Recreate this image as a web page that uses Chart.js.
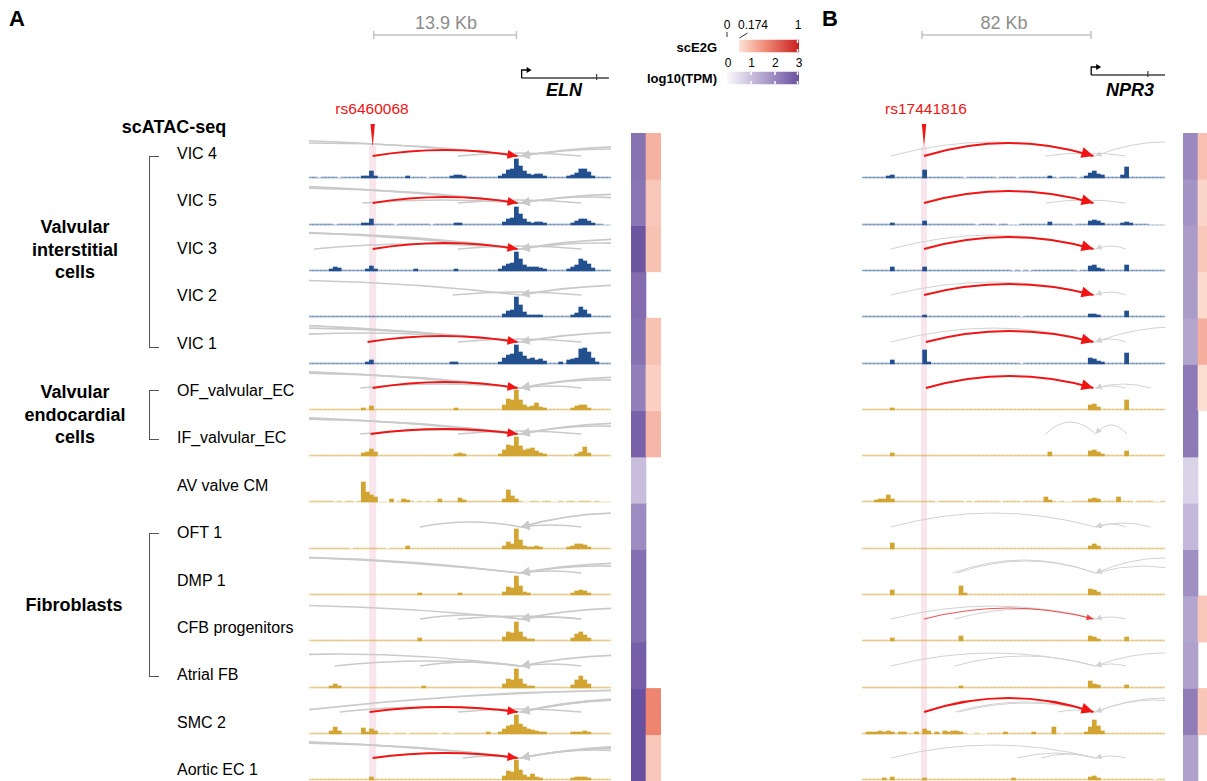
<!DOCTYPE html>
<html>
<head>
<meta charset="utf-8">
<script src="https://cdn.jsdelivr.net/npm/chart.js@4/dist/chart.umd.min.js"></script>
<style>
  html, body { margin: 0; padding: 0; background: #fff; }
  #fig { position: relative; width: 1207px; height: 781px; overflow: hidden;
         font-family: 'Liberation Sans', Arial, sans-serif; color: #000; }
  #fig canvas { position: absolute; }
  .t { position: absolute; white-space: nowrap; line-height: 1; }
  .br { position: absolute; border: 1.5px solid #555; border-right: none; }
</style>
</head>
<body>
<div id="fig"></div>
<script>
// ---- data ----
const cellTypes = ['VIC 4', 'VIC 5', 'VIC 3', 'VIC 2', 'VIC 1', 'OF_valvular_EC', 'IF_valvular_EC',
  'AV valve CM', 'OFT 1', 'DMP 1', 'CFB progenitors', 'Atrial FB', 'SMC 2', 'Aortic EC 1']
const interstitialGroup = ['VIC 4', 'VIC 5', 'VIC 3', 'VIC 2', 'VIC 1']
const endocardialGroup = ['OF_valvular_EC', 'IF_valvular_EC']
const fibroblastGroup = ['OFT 1', 'DMP 1', 'CFB progenitors', 'Atrial FB']

// ELN locus (kb from left edge of the window)
const elnSpanKb = 29.4
const elnSnpKb = 6.2
const elnTssKb = 20.6
const elnScaleBarKb = [6.3, 20.2]
const elnGeneKb = [20.7, 29.2]
const elnExonKb = 28.0

// scATAC coverage, 75 bins across the window, one row per cell type
const elnCoverage = [
  [1,1,0,1,1,1,1,0,1,1,1,1,1,2,2, 7,2,1,1,1,1,1,1,1,2,1,1,1,1,0, 1,1,1,1,1,2,3,3,2,1,1,1,1,1,1, 1,1,2,4,8,9,19,12,7,4,3,4,4,2,1, 1,1,1,1,2,3,5,9,9,6,2,1,1,1,1],
  [1,1,1,1,1,1,0,1,1,1,1,1,1,2,2, 6,1,1,1,1,1,0,1,1,1,1,1,1,1,1, 0,1,1,1,1,1,2,2,1,1,1,1,1,1,1, 1,1,1,3,6,7,18,11,6,3,2,3,3,2,1, 1,1,1,1,1,2,4,6,6,4,2,1,1,0,0],
  [1,1,1,1,1,2,4,3,1,1,1,1,1,1,2, 5,2,1,1,1,1,1,1,1,1,1,2,1,1,1, 1,1,1,1,1,1,2,1,1,1,1,1,1,1,1, 1,1,2,5,7,8,19,12,6,4,4,4,3,2,1, 1,1,1,1,2,4,6,12,10,7,3,1,1,1,1],
  [1,1,1,1,1,1,1,1,1,1,1,1,1,1,1, 1,1,1,1,1,1,1,1,1,1,1,1,1,1,1, 1,1,1,1,1,1,1,1,1,1,1,1,1,1,1, 1,1,1,3,6,7,20,12,5,2,2,2,2,1,1, 1,1,1,1,1,2,4,10,7,3,1,1,1,1,1],
  [1,1,1,1,1,1,1,1,1,1,1,1,1,1,2, 4,1,1,1,1,1,1,1,1,1,1,1,1,1,1, 1,1,1,1,1,2,2,1,1,1,1,1,1,1,1, 1,1,2,6,9,10,19,12,8,5,6,4,5,3,1, 1,1,2,1,4,5,6,15,16,12,6,2,1,1,1],
  [1,1,1,1,1,1,1,1,1,1,1,1,1,2,1, 4,1,1,1,1,1,1,1,1,1,1,1,1,1,1, 1,1,1,1,1,1,2,1,1,1,1,1,1,1,1, 1,1,1,5,11,10,20,10,5,3,4,7,3,2,1, 1,1,1,1,1,2,4,5,5,2,1,1,1,1,1],
  [1,1,1,1,1,1,1,1,1,1,1,1,1,3,4, 7,4,1,1,1,1,1,1,1,1,1,1,1,1,1, 1,1,1,1,1,1,2,3,2,1,1,1,1,1,1, 1,1,2,6,11,10,19,10,6,7,8,5,3,2,1, 1,1,1,1,1,1,2,4,9,3,1,1,1,1,1],
  [1,1,1,1,1,1,0,1,0,1,1,0,1,20,10, 7,5,0,0,0,3,0,1,3,2,1,0,1,0,1, 0,1,3,1,1,1,1,4,2,1,1,1,1,1,1, 1,1,1,3,12,6,3,1,0,0,1,1,0,1,1, 0,0,1,0,1,1,0,1,1,1,0,1,0,0,0],
  [1,1,1,1,1,1,1,1,1,1,0,1,1,1,1, 1,1,1,1,0,1,1,1,1,3,1,1,1,1,1, 1,1,1,1,1,1,1,1,1,1,1,1,1,1,1, 1,1,1,3,7,5,20,9,3,2,2,3,2,1,1, 1,1,1,1,2,3,5,5,4,2,1,1,1,1,1],
  [1,1,1,1,1,1,1,1,1,1,1,1,1,1,1, 1,1,1,1,1,1,1,1,1,1,1,1,2,1,1, 1,1,1,1,1,1,1,2,1,1,1,1,1,1,1, 1,1,1,3,8,7,19,9,3,2,1,1,1,1,1, 1,1,1,1,1,2,4,5,4,2,1,1,1,1,1],
  [1,1,1,1,1,1,1,1,1,1,1,1,1,1,1, 1,1,1,1,1,1,1,1,1,1,1,1,3,1,1, 1,1,1,1,1,1,1,1,1,1,1,1,1,1,1, 1,1,1,4,9,8,19,9,4,2,2,1,1,1,1, 1,1,1,1,1,3,7,9,6,3,1,1,1,1,1],
  [1,1,1,1,1,2,4,2,1,1,1,1,1,1,1, 1,1,1,1,1,1,1,1,1,1,1,1,1,2,1, 1,1,1,1,1,1,1,1,1,1,1,1,1,1,1, 1,1,1,4,9,8,19,9,4,2,2,1,1,1,1, 1,1,1,1,1,3,8,12,8,4,1,1,1,1,1],
  [1,1,1,1,1,3,7,3,1,1,1,1,1,6,2, 5,3,1,1,1,0,1,1,1,0,1,1,1,1,1, 1,1,0,1,1,0,1,1,1,1,1,1,1,1,2, 1,1,2,5,8,9,19,10,7,5,4,3,2,2,1, 1,1,1,1,1,2,2,2,3,2,1,1,1,1,1],
  [1,1,1,1,1,1,1,1,1,1,1,1,1,1,1, 3,1,1,1,1,1,1,1,1,1,1,1,1,1,1, 1,1,1,1,1,1,1,1,1,1,1,1,1,1,1, 1,1,1,4,9,8,20,10,5,3,6,3,2,1,1, 1,1,1,1,1,2,3,3,3,2,1,1,1,1,1]
]

// contact arcs [fromKb, toKb, rise] per cell type (grey) and the SNP-to-gene link (red)
const elnArcs = [
  [[-20, 20.6, 13], [-40, 20.6, 17], [20.6, 45, 10], [20.6, 38, 7], [14.5, 26.5, 3]],
  [[-25, 20.6, 15], [-45, 20.6, 19], [5.2, 20.6, 3], [20.6, 42, 9], [20.6, 34, 6], [14.5, 26.5, 3]],
  [[-25, 20.6, 16], [-45, 20.6, 19], [0.5, 20.6, 5], [20.6, 42, 10], [20.6, 36, 6], [14.5, 26.5, 3]],
  [[-30, 20.6, 15], [20.6, 42, 10], [14, 26.5, 3]],
  [[-25, 20.6, 14], [-45, 20.6, 19], [-10, 20.6, 9], [20.6, 42, 10], [14.5, 26.5, 3]],
  [[-25, 20.6, 15], [-40, 20.6, 18], [5, 20.6, 4], [20.6, 42, 11], [20.6, 36, 8], [20.6, 26.5, 2]],
  [[-25, 20.6, 15], [-40, 20.6, 18], [5, 20.6, 4], [14.5, 26.5, 3], [20.6, 42, 11], [20.6, 36, 8]],
  [],
  [[10.8, 20.6, 5], [20.6, 40, 14], [20.6, 26.5, 2]],
  [[-30, 20.6, 16], [-45, 20.6, 18], [20.6, 42, 10], [20.6, 36, 7], [20.6, 26.5, 2]],
  [[-30, 20.6, 14], [10.8, 20.6, 4], [14.5, 26.5, 3], [20.6, 42, 11], [20.6, 26.5, 2]],
  [[-15, 20.6, 12], [2.5, 20.6, 5], [10.8, 20.6, 4], [20.6, 42, 11], [20.6, 26.5, 2]],
  [[-2, 70, 22], [3, 20.6, 5], [20.6, 45, 14], [20.6, 44, 13], [20.6, 40, 12], [14.5, 26.5, 3]],
  [[-25, 20.6, 15], [-40, 20.6, 18], [15, 20.6, 2], [20.6, 45, 12], [20.6, 40, 10], [20.6, 35, 8]]
]
const elnLinks = [[6.2, 20.3, 6], [6.2, 20.3, 6], [6.2, 20.3, 6], null, [5.7, 20.3, 6], [6.2, 20.3, 6],
  [6.0, 20.3, 5], null, null, null, null, null, [5.9, 20.3, 5], [6.2, 20.3, 5]]

const elnTPM = [2.40, 2.32, 2.92, 2.48, 2.42, 2.15, 2.70, 1.05, 1.95, 2.45, 2.45, 2.74, 3.0, 3.0]
const elnE2G = [0.37, 0.28, 0.30, null, 0.30, 0.24, 0.35, null, null, null, null, null, 0.56, 0.28]

// NPR3 locus
const npr3SpanKb = 147
const npr3SnpKb = 30.1
const npr3TssKb = 113.3
const npr3ScaleBarKb = [29.1, 111.1]
const npr3GeneKb = [111.2, 147]
const npr3ExonKb = 138.7

const npr3Coverage = [
  [1,1,1,1,1,1,2,3,1,1,1,1,1,1,1, 8,1,1,1,1,1,1,1,1,1,0,1,1,1,1, 1,1,1,0,1,1,1,1,0,1,1,1,1,1,1, 1,2,1,0,1,1,1,1,0,1,2,5,7,4,3, 1,1,1,1,3,11,1,1,1,1,1,1,1,1,1],
  [1,1,1,1,1,1,1,2,1,1,1,1,1,1,1, 4,1,1,1,1,1,1,1,1,1,1,1,1,0,1, 1,1,1,0,1,1,0,0,0,1,1,1,1,1,1, 1,3,1,1,1,1,1,0,1,1,1,4,5,4,2, 1,1,1,1,2,3,2,1,1,1,1,0,0,0,0],
  [1,1,1,1,1,1,1,4,1,1,1,1,1,1,1, 4,1,1,1,1,1,1,1,1,1,1,1,1,1,1, 1,1,1,1,1,1,1,0,1,0,1,0,1,1,1, 1,1,1,1,1,1,1,1,0,1,1,5,6,3,2, 1,1,1,1,1,6,1,1,1,1,1,1,1,1,1],
  [1,1,1,1,1,1,1,1,1,1,1,1,1,1,1, 2,1,1,1,1,1,1,1,1,1,1,1,1,1,1, 1,1,1,1,1,1,1,1,1,0,1,1,1,1,1, 1,1,1,1,1,1,1,1,1,1,1,3,3,2,1, 1,1,1,1,1,6,1,1,1,1,1,1,1,1,1],
  [1,1,1,1,1,1,1,4,1,1,1,1,1,1,1, 14,2,1,1,1,1,1,1,1,1,1,1,1,1,1, 1,1,1,1,1,1,1,1,1,0,1,1,1,1,1, 1,1,1,1,1,1,1,1,1,1,1,6,5,3,2, 1,1,1,1,1,11,1,1,1,1,1,1,1,1,1],
  [1,1,1,1,1,1,1,2,1,1,1,1,1,1,1, 1,1,1,1,1,1,1,1,1,1,1,1,1,1,1, 1,1,1,1,1,1,1,1,1,1,1,1,1,1,1, 1,1,1,1,1,1,1,1,1,1,1,5,6,3,1, 1,1,1,1,1,10,1,1,1,1,1,1,1,1,1],
  [1,1,1,1,1,1,1,3,1,1,1,1,1,1,1, 1,1,1,1,1,1,1,1,1,1,1,1,1,1,1, 1,1,1,1,1,1,1,1,1,1,1,1,1,1,1, 1,4,1,1,1,1,1,1,1,1,1,5,6,4,2, 1,1,1,1,1,5,1,1,1,1,1,1,1,1,1],
  [1,1,1,2,3,3,7,3,1,1,1,1,1,1,1, 1,1,1,0,1,1,1,1,1,1,0,1,0,1,1, 1,1,1,1,0,1,1,1,1,0,1,1,1,1,1, 5,2,1,0,1,0,0,1,1,1,1,3,4,3,1, 1,1,1,5,1,1,1,0,1,1,1,1,0,0,1],
  [1,1,1,1,1,1,1,6,1,1,1,1,1,1,1, 1,1,1,1,1,1,1,1,1,1,1,1,1,1,1, 1,1,1,1,1,1,1,1,1,1,1,1,1,1,1, 1,1,1,1,1,1,1,1,1,1,1,3,5,3,1, 1,1,1,1,1,1,1,1,1,1,1,1,1,1,1],
  [1,1,1,1,1,1,1,5,1,1,1,1,1,1,1, 1,1,1,1,1,1,1,1,1,9,2,1,1,1,1, 1,1,1,1,1,1,1,1,1,1,1,1,1,1,1, 1,1,1,1,1,1,1,1,1,1,1,6,5,3,1, 1,1,1,1,1,1,1,1,1,1,1,1,1,1,1],
  [1,1,1,1,1,1,1,3,1,1,1,1,1,1,1, 1,1,1,1,1,1,1,1,1,5,1,1,1,1,1, 1,1,1,1,1,1,1,1,1,1,1,1,1,1,1, 1,1,1,1,1,1,1,1,1,1,1,5,4,2,1, 1,1,1,1,1,4,1,1,1,1,1,1,1,1,1],
  [1,1,1,1,1,1,1,1,1,1,1,1,1,1,1, 1,1,1,1,1,1,1,1,1,2,1,1,1,1,1, 1,1,1,1,1,1,1,1,1,1,1,1,1,1,1, 1,1,1,1,1,1,1,1,1,1,1,7,4,3,1, 1,1,1,1,1,3,1,1,1,1,1,1,1,1,1],
  [1,2,2,2,3,2,3,2,1,2,2,1,1,2,1, 5,3,1,2,1,3,2,3,3,2,1,0,0,1,0, 0,1,1,1,1,2,1,1,1,1,1,1,2,1,1, 1,1,7,1,0,1,1,1,1,1,2,7,14,8,3, 1,1,1,1,1,1,1,1,1,1,1,1,1,1,1],
  [1,1,1,1,1,2,1,3,1,1,1,1,1,1,1, 2,1,1,1,1,1,1,1,1,1,1,1,1,1,1, 1,1,1,1,1,1,1,2,1,1,1,1,1,1,1, 1,1,1,1,1,1,1,1,1,1,1,3,4,2,1, 1,1,1,1,1,1,1,1,1,1,1,1,0,1,1]
]

const npr3Arcs = [
  [[14, 113.3, 14], [113.3, 180, 14], [89, 128, 3]],
  [[89, 128, 3]],
  [[14, 113.3, 14], [113.3, 128, 3]],
  [[14, 113.3, 13], [113.3, 128, 3]],
  [[14, 113.3, 14], [113.3, 190, 15], [113.3, 128, 3]],
  [[113.3, 140, 4], [113.3, 128, 2]],
  [[89, 113.3, 12], [113.3, 128.5, 9]],
  [],
  [[14, 113.3, 14], [113.3, 140, 4], [113.3, 128, 3]],
  [[44, 113.3, 13], [46, 113.3, 12], [113.3, 180, 15], [113.3, 160, 7]],
  [[14, 113.3, 13], [45, 113.3, 10], [113.3, 128, 2]],
  [[14, 113.3, 13], [45, 113.3, 10], [113.3, 180, 13], [113.3, 128, 2]],
  [[45, 113.3, 10], [47, 113.3, 9], [95, 113.3, 2], [113.3, 180, 14], [113.3, 170, 12]],
  [[14, 113.3, 13], [75, 113.3, 5], [87, 113.3, 4], [113.3, 128, 2]]
]
const npr3Links = [[30.1, 112.3, 13], [30.1, 112.3, 12], [30.1, 112.3, 12], [30.1, 112.3, 11], [31, 112.3, 11],
  [31, 112.3, 12], null, null, null, null, [30.1, 112.3, 11], null, [30.1, 112.3, 14], null]
const npr3WeakLinks = ['CFB progenitors']

const npr3TPM = [2.01, 1.79, 1.67, 1.67, 1.49, 2.25, 2.25, 0.68, 1.15, 1.89, 1.49, 1.57, 2.21, 1.57]
const npr3E2G = [0.31, 0.22, 0.275, 0.195, 0.385, 0.18, null, null, null, null, 0.275, null, 0.29, null]

const e2gThreshold = 0.174
const tpmTicks = [0, 1, 2, 3]

// ---- colour scales ----
const tpmStops = [[0, [250, 249, 252]], [3, [106, 80, 160]]]
const e2gStops = [[0.174, [253, 224, 212]], [0.55, [239, 135, 115]], [1, [200, 30, 30]]]

function rampColor(stops, v) {
  if (v <= stops[0][0]) return 'rgb(' + stops[0][1].join(',') + ')'
  for (let i = 1; i < stops.length; i++) {
    if (v <= stops[i][0]) {
      const [v0, c0] = stops[i - 1], [v1, c1] = stops[i]
      const f = (v - v0) / (v1 - v0)
      return 'rgb(' + c0.map((c, k) => Math.round(c + (c1[k] - c) * f)).join(',') + ')'
    }
  }
  return 'rgb(' + stops[stops.length - 1][1].join(',') + ')'
}

// ---- page helpers ----
const fig = document.getElementById('fig')

function addCanvas(left, top, w, h, z) {
  const c = document.createElement('canvas')
  c.width = w
  c.height = h
  c.style.cssText = `left:${left}px;top:${top}px;width:${w}px;height:${h}px;z-index:${z || 1}`
  fig.appendChild(c)
  return c
}

function text(str, x, y, style, align) {
  const d = document.createElement('div')
  d.className = 't'
  d.textContent = str
  d.style.left = x + 'px'
  d.style.top = y + 'px'
  const tx = align === 'center' ? '-50%' : align === 'right' ? '-100%' : '0'
  d.style.transform = `translate(${tx},-50%)`
  Object.assign(d.style, style || {})
  fig.appendChild(d)
}

function bracket(x, y0, y1) {
  const d = document.createElement('div')
  d.className = 'br'
  d.style.cssText = `left:${x}px;top:${y0}px;width:9px;height:${y1 - y0}px`
  fig.appendChild(d)
}

const baseOpts = () => ({
  responsive: false, animation: false, events: [],
  layout: { padding: 0 },
  plugins: { legend: { display: false }, tooltip: { enabled: false } }
})

// ---- track drawing ----
const trackTop = 133
const trackStep = 46.3
const arcBase = 22

function arcPath(ctx, x, y, from, to, rise) {
  const xa = x.getPixelForValue(from), xb = x.getPixelForValue(to)
  const yb = y.getPixelForValue(arcBase), yc = y.getPixelForValue(arcBase + 2 * rise)
  const cx = (xa + xb) / 2
  ctx.beginPath()
  ctx.moveTo(xa, yb)
  ctx.quadraticCurveTo(cx, yc, xb, yb)
  return { xa, xb, yb, cx, cy: yc }
}

function arrowHead(ctx, tx, ty, fx, fy, len, half) {
  const a = Math.atan2(ty - fy, tx - fx)
  const bx = tx - len * Math.cos(a), by = ty - len * Math.sin(a)
  ctx.beginPath()
  ctx.moveTo(tx, ty)
  ctx.lineTo(bx + half * Math.sin(a), by - half * Math.cos(a))
  ctx.lineTo(bx - half * Math.sin(a), by + half * Math.cos(a))
  ctx.closePath()
  ctx.fill()
}

function trackDecor(p, i) {
  return {
    id: 'decor' + i,
    beforeDatasetsDraw(chart) {
      const { ctx, chartArea: a, scales: { x } } = chart
      const x0 = x.getPixelForValue(p.snp - p.band), x1 = x.getPixelForValue(p.snp + p.band)
      const top = i === 0 ? a.top + 13 : a.top
      ctx.save()
      ctx.fillStyle = 'rgba(232,150,178,0.25)'
      ctx.fillRect(x0, top, x1 - x0, a.bottom - top)
      ctx.restore()
    },
    afterDatasetsDraw(chart) {
      const { ctx, chartArea: a, scales: { x, y } } = chart
      ctx.save()
      ctx.beginPath()
      ctx.rect(a.left, a.top, a.right - a.left, a.bottom - a.top)
      ctx.clip()
      ctx.lineCap = 'butt'
      ctx.strokeStyle = p.arcColor
      ctx.fillStyle = p.arcColor
      ctx.lineWidth = p.arcWidth
      p.arcs[i].forEach(([from, to, rise]) => {
        const g = arcPath(ctx, x, y, from, to, rise)
        ctx.stroke()
        if (from === p.tss) arrowHead(ctx, g.xa, g.yb, g.cx, g.cy, p.grayHead[0], p.grayHead[1])
      })
      const link = p.links[i]
      if (link) {
        const weak = p.weak.includes(cellTypes[i])
        const col = weak ? 'rgba(238,40,40,0.8)' : '#f01414'
        ctx.strokeStyle = col
        ctx.fillStyle = col
        ctx.lineWidth = weak ? 1.2 : p.linkWidth
        const g = arcPath(ctx, x, y, link[0], link[1], link[2])
        ctx.stroke()
        const hd = weak ? [7, 3] : p.redHead
        arrowHead(ctx, g.xb, g.yb, g.cx, g.cy, hd[0], hd[1])
      }
      ctx.restore()
    }
  }
}

function buildTracks(p) {
  p.coverage.forEach((cov, i) => {
    const top = Math.round(trackTop + trackStep * i)
    const h = Math.round(trackTop + trackStep * (i + 1)) - top
    const cvs = addCanvas(p.left, top, p.width, h, 1)
    const binKb = p.span / cov.length
    const vic = interstitialGroup.includes(cellTypes[i])
    const color = vic ? '#22508f' : '#d2a431'
    const faint = vic ? 'rgba(34,80,143,0.5)' : 'rgba(210,164,49,0.5)'
    const opts = baseOpts()
    opts.scales = {
      x: { type: 'linear', min: 0, max: p.span, display: false, offset: false },
      y: { min: -1, max: h - 1, display: false }
    }
    new Chart(cvs, {
      type: 'bar',
      data: {
        datasets: [{
          data: cov.map((v, k) => ({ x: (k + 0.5) * binKb, y: v })),
          backgroundColor: c => (c.raw && c.raw.y <= 1 ? faint : color),
          borderWidth: 0, barPercentage: 1, categoryPercentage: 1
        }]
      },
      options: opts,
      plugins: [trackDecor(p, i)]
    })
  })
}

function buildHeader(p) {
  const cvs = addCanvas(p.left, 0, p.width, 150, 3)
  const opts = baseOpts()
  opts.scales = {
    x: { type: 'linear', min: 0, max: p.span, display: false },
    y: { type: 'linear', min: 0, max: 150, reverse: true, display: false }
  }
  new Chart(cvs, {
    type: 'scatter',
    data: { datasets: [] },
    options: opts,
    plugins: [{
      id: 'header',
      afterDraw(chart) {
        const { ctx, scales: { x, y } } = chart
        ctx.save()
        // scale bar
        const s0 = x.getPixelForValue(p.scaleBar[0]), s1 = x.getPixelForValue(p.scaleBar[1])
        const sy = y.getPixelForValue(35)
        ctx.strokeStyle = '#c4c4c4'
        ctx.lineWidth = 1.5
        ctx.beginPath()
        ctx.moveTo(s0, sy); ctx.lineTo(s1, sy)
        ctx.moveTo(s0, sy - 4); ctx.lineTo(s0, sy + 4)
        ctx.moveTo(s1, sy - 4); ctx.lineTo(s1, sy + 4)
        ctx.stroke()
        // gene model
        const g0 = x.getPixelForValue(p.gene[0]), g1 = x.getPixelForValue(p.gene[1])
        const gx = x.getPixelForValue(p.exon), gy = y.getPixelForValue(p.geneY)
        ctx.strokeStyle = '#444'
        ctx.lineWidth = 1.3
        ctx.beginPath()
        ctx.moveTo(g0, gy); ctx.lineTo(g1, gy)
        ctx.moveTo(gx, gy - 4); ctx.lineTo(gx, gy + 2)
        ctx.stroke()
        ctx.strokeStyle = '#000'
        ctx.beginPath()
        ctx.moveTo(g0, gy); ctx.lineTo(g0, gy - 8); ctx.lineTo(g0 + 6, gy - 8)
        ctx.stroke()
        ctx.fillStyle = '#000'
        ctx.beginPath()
        ctx.moveTo(g0 + 10, gy - 8); ctx.lineTo(g0 + 5, gy - 11); ctx.lineTo(g0 + 5, gy - 5)
        ctx.closePath(); ctx.fill()
        // SNP marker
        const sx = x.getPixelForValue(p.snp)
        ctx.fillStyle = '#f01414'
        ctx.beginPath()
        ctx.moveTo(sx - 2.2, y.getPixelForValue(124))
        ctx.lineTo(sx + 2.2, y.getPixelForValue(124))
        ctx.lineTo(sx, y.getPixelForValue(147))
        ctx.closePath(); ctx.fill()
        ctx.restore()
      }
    }]
  })
}

function buildHeatmap(left, tpm, e2g) {
  const cvs = addCanvas(left, trackTop, 30, 648, 1)
  const opts = baseOpts()
  opts.scales = {
    x: { display: false, stacked: true },
    y: { display: false, stacked: true, reverse: true, min: 0, max: cellTypes.length }
  }
  new Chart(cvs, {
    type: 'bar',
    data: {
      labels: ['log10(TPM)', 'scE2G'],
      datasets: cellTypes.map((n, i) => ({
        label: n,
        data: [1, 1],
        backgroundColor: [rampColor(tpmStops, tpm[i]),
          e2g[i] == null || e2g[i] < e2gThreshold ? 'rgba(0,0,0,0)' : rampColor(e2gStops, e2g[i])],
        borderWidth: 0, barPercentage: 1, categoryPercentage: 1
      }))
    },
    options: opts
  })
}

function buildColorbar(top, lo, hi, range, stops, ticks, extra) {
  const cvs = addCanvas(720, top, 86, 24, 2)
  const opts = baseOpts()
  opts.indexAxis = 'y'
  opts.layout = { padding: { left: 7, right: 7, top: 4, bottom: 0 } }
  opts.scales = {
    x: { type: 'linear', min: range[0], max: range[1], display: false },
    y: { display: false }
  }
  new Chart(cvs, {
    type: 'bar',
    data: {
      labels: ['bar'],
      datasets: [{
        data: [[lo, hi]],
        barThickness: 12,
        borderWidth: 0,
        backgroundColor(c) {
          const ch = c.chart
          if (!ch.chartArea) return '#ccc'
          const xs = ch.scales.x
          const grad = ch.ctx.createLinearGradient(xs.getPixelForValue(lo), 0, xs.getPixelForValue(hi), 0)
          stops.forEach(([v]) => grad.addColorStop((v - lo) / (hi - lo), rampColor(stops, v)))
          return grad
        }
      }]
    },
    options: opts,
    plugins: [{
      id: 'cbTicks',
      afterDraw(chart) {
        const { ctx, scales: { x }, chartArea: a } = chart
        const cy = (a.top + a.bottom) / 2
        ctx.save()
        ctx.strokeStyle = '#fff'
        ctx.lineWidth = 1.5
        ticks.forEach(t => {
          if (t <= lo) return
          const px = Math.min(x.getPixelForValue(t), a.right - 1.5)
          ctx.beginPath()
          ctx.moveTo(px, cy - 6); ctx.lineTo(px, cy - 3)
          ctx.moveTo(px, cy + 3); ctx.lineTo(px, cy + 6)
          ctx.stroke()
        })
        if (extra) extra(ctx, x, cy)
        ctx.restore()
      }
    }]
  })
}

// ---- build panels ----
const panelA = {
  left: 309, width: 302, span: elnSpanKb, snp: elnSnpKb, tss: elnTssKb, band: 0.34,
  coverage: elnCoverage, arcs: elnArcs, links: elnLinks, weak: [],
  arcColor: '#cacaca', arcWidth: 1.7, linkWidth: 2, grayHead: [9, 4.5], redHead: [10, 4.5],
  scaleBar: elnScaleBarKb, gene: elnGeneKb, exon: elnExonKb, geneY: 78
}
const panelB = {
  left: 862, width: 303, span: npr3SpanKb, snp: npr3SnpKb, tss: npr3TssKb, band: 1.45,
  coverage: npr3Coverage, arcs: npr3Arcs, links: npr3Links, weak: npr3WeakLinks,
  arcColor: '#d2d2d2', arcWidth: 1, linkWidth: 2.2, grayHead: [6, 3], redHead: [12, 5.5],
  scaleBar: npr3ScaleBarKb, gene: npr3GeneKb, exon: npr3ExonKb, geneY: 75
}

buildTracks(panelA)
buildTracks(panelB)
buildHeader(panelA)
buildHeader(panelB)
buildHeatmap(631, elnTPM, elnE2G)
buildHeatmap(1183, npr3TPM, npr3E2G)

buildColorbar(32, e2gThreshold, 1, [0, 1], e2gStops, [1], (ctx, x) => {
  ctx.strokeStyle = '#333'
  ctx.lineWidth = 1
  const x0 = x.getPixelForValue(0), xt = x.getPixelForValue(e2gThreshold)
  ctx.beginPath()
  ctx.moveTo(x0, 0); ctx.lineTo(x0, 5)
  ctx.moveTo(xt, 6); ctx.lineTo(xt + 8, 1)
  ctx.stroke()
})
buildColorbar(64, 0, 3, [0, 3], tpmStops, tpmTicks)

// ---- text ----
text('A', 9, 19, { fontWeight: 'bold', fontSize: '22px' })
text('B', 822, 19, { fontWeight: 'bold', fontSize: '22px' })
text('13.9 Kb', 446, 23, { fontSize: '18px', color: '#8c8c8c' }, 'center')
text('82 Kb', 1004, 23, { fontSize: '18px', color: '#8c8c8c' }, 'center')
text('ELN', 564, 90, { fontSize: '18px', fontWeight: 'bold', fontStyle: 'italic' }, 'center')
text('NPR3', 1130, 90, { fontSize: '18px', fontWeight: 'bold', fontStyle: 'italic' }, 'center')
text('rs6460068', 372, 109, { fontSize: '15.5px', color: '#f01414' }, 'center')
text('rs17441816', 926, 109, { fontSize: '15.5px', color: '#f01414' }, 'center')

text('0', 727, 25, { fontSize: '12px' }, 'center')
text('0.174', 738, 25, { fontSize: '12px' })
text('1', 798, 25, { fontSize: '12px' }, 'center')
text('scE2G', 717, 47, { fontSize: '13px', fontWeight: 'bold' }, 'right')
tpmTicks.forEach(t => text(String(t), 728 + t * 23.7, 63, { fontSize: '12px' }, 'center'))
text('log10(TPM)', 717, 78, { fontSize: '13px', fontWeight: 'bold' }, 'right')

text('scATAC-seq', 174, 127, { fontSize: '18px', fontWeight: 'bold' }, 'center')
const groupStyle = { fontSize: '18px', fontWeight: 'bold' }
;['Valvular', 'interstitial', 'cells'].forEach((w, k) => text(w, 75, 227 + 22.5 * k, groupStyle, 'center'))
;['Valvular', 'endocardial', 'cells'].forEach((w, k) => text(w, 75, 392 + 22.5 * k, groupStyle, 'center'))
text('Fibroblasts', 74, 605, groupStyle, 'center')

cellTypes.forEach((n, i) => text(n, 177, 154 + 47.4 * i, { fontSize: '16px' }))

const labelY = n => 154 + 47.4 * cellTypes.indexOf(n)
bracket(149, labelY(interstitialGroup[0]) + 2, labelY(interstitialGroup[interstitialGroup.length - 1]) + 2)
bracket(149, labelY(endocardialGroup[0]) - 1, labelY(endocardialGroup[endocardialGroup.length - 1]))
bracket(149, labelY(fibroblastGroup[0]), labelY(fibroblastGroup[fibroblastGroup.length - 1]))
</script>
</body>
</html>
